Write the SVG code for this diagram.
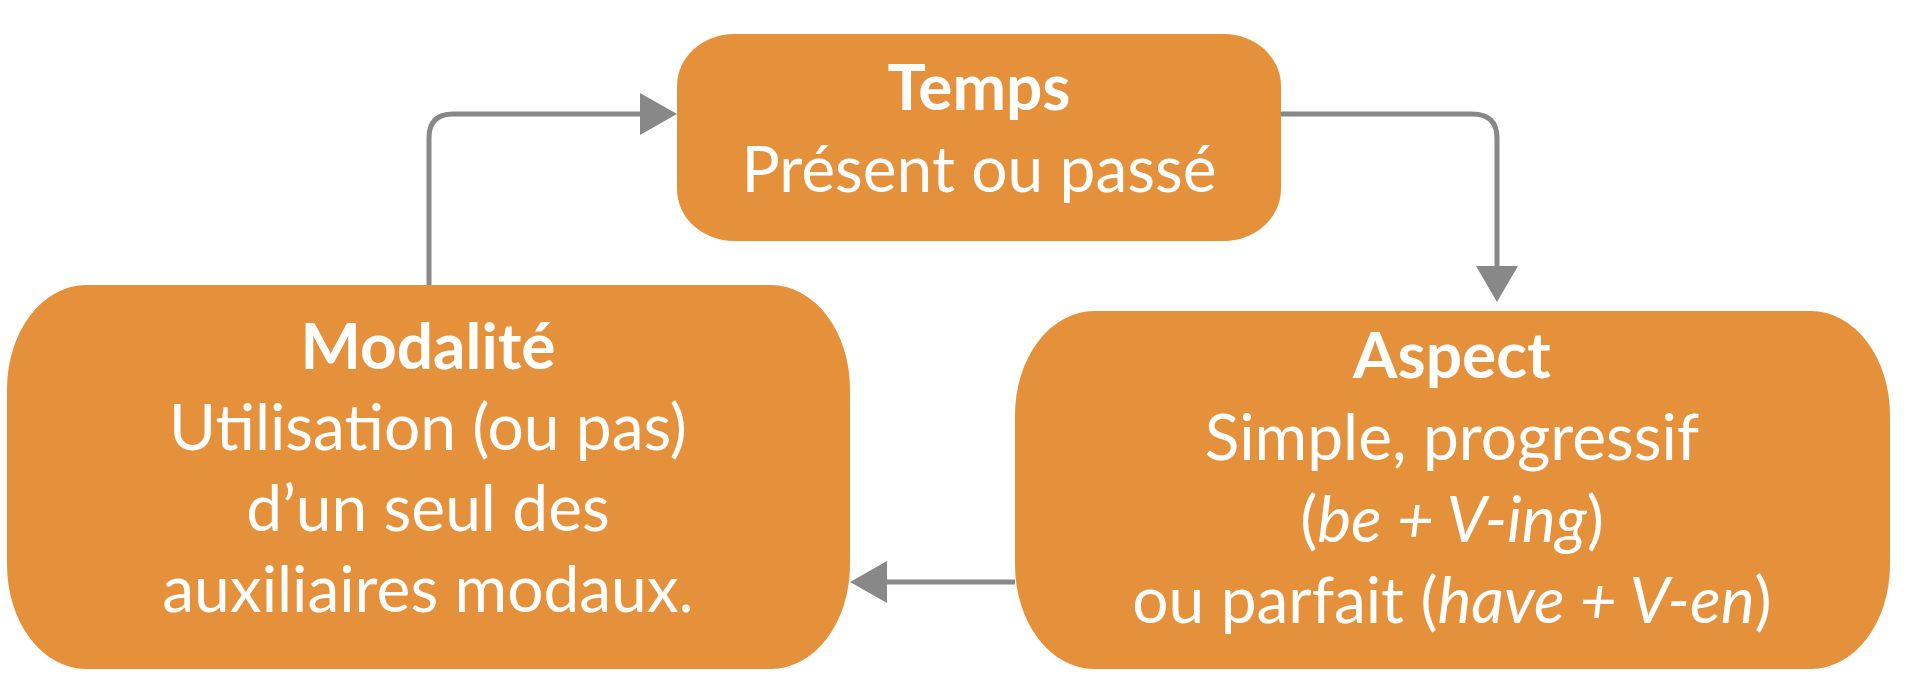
<svg xmlns="http://www.w3.org/2000/svg" width="1910" height="694" viewBox="0 0 1910 694">
<defs>
<style>
.box{fill:#E5913C}
.t{font-family:Lato,"Open Sans",sans-serif;font-size:64px;fill:#fff;text-anchor:middle}
.b{font-weight:bold}
.c{fill:none;stroke:#888;stroke-width:5}
.h{fill:#888}
</style>
</defs>
<rect width="1910" height="694" fill="#fff"/>
<g id="connectors">
<path class="c" d="M429 286 V138 Q429 114 453 114 H645"/>
<polygon class="h" points="640,93 677,114 640,135"/>
<path class="c" d="M1281 114 H1472 Q1497 114 1497 138 V268"/>
<polygon class="h" points="1476,266 1518,266 1497,302"/>
<path class="c" d="M1015 582 H885"/>
<polygon class="h" points="887,561 850,582 887,603"/>
</g>
<g id="temps">
<rect class="box" x="677" y="34" width="604" height="207" rx="57" ry="52"/>
<text class="t b" x="979" y="110">Temps</text>
<text class="t" x="979" y="192">Présent ou passé</text>
</g>
<g id="modalite">
<rect class="box" x="7" y="285" width="843" height="384" rx="79" ry="104"/>
<text class="t b" x="428" y="369">Modalité</text>
<text class="t" x="428" y="450">Utilisation (ou pas)</text>
<text class="t" x="428" y="531">d’un seul des</text>
<text class="t" x="428" y="612">auxiliaires modaux.</text>
</g>
<g id="aspect">
<rect class="box" x="1015" y="311" width="875" height="358" rx="79" ry="104"/>
<text class="t b" x="1452" y="378">Aspect</text>
<text class="t" x="1452" y="460">Simple, progressif</text>
<text class="t" x="1452" y="542">(<tspan font-style="italic">be + V-ing</tspan>)</text>
<text class="t" x="1452" y="623">ou parfait (<tspan font-style="italic">have + V-en</tspan>)</text>
</g>
</svg>
